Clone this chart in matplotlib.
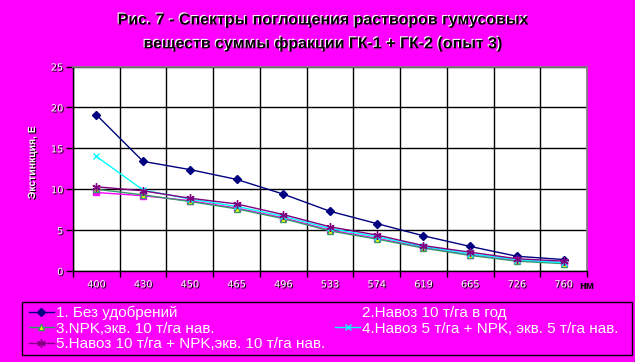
import matplotlib
matplotlib.use("Agg")
import matplotlib.pyplot as plt
import matplotlib.patheffects as pe
from matplotlib.patches import Rectangle
import numpy as np

#---------------------------------------#
# DATA
#---------------------------------------#
wavelengths = ["400", "430", "450", "465", "496", "533", "574", "619", "665", "726", "760"]
s1_no_fert = [19.1, 13.4, 12.4, 11.2, 9.4, 7.3, 5.8, 4.3, 3.0, 1.8, 1.4]
s2_manure10 = [9.6, 9.2, 8.6, 7.7, 6.5, 5.0, 4.0, 2.9, 2.0, 1.3, 1.0]
s3_npk10 = [10.0, 9.3, 8.5, 7.6, 6.4, 4.9, 3.9, 2.8, 1.9, 1.2, 0.9]
s4_manure5_npk5 = [14.0, 9.9, 8.8, 7.9, 6.7, 5.2, 4.2, 3.0, 2.1, 1.4, 1.0]
s5_manure10_npk10 = [10.3, 9.8, 8.9, 8.2, 6.9, 5.4, 4.4, 3.1, 2.3, 1.5, 1.2]
labels = ["1. Без удобрений", "2.Навоз 10 т/га в год", "3.NPK,экв. 10 т/га нав.",
          "4.Навоз 5 т/га + NPK, экв. 5 т/га нав.", "5.Навоз 10 т/га + NPK,экв. 10 т/га нав."]
yticks = [0, 5, 10, 15, 20, 25]
title = "Рис. 7 - Спектры поглощения растворов гумусовых\nвеществ суммы фракции ГК-1 + ГК-2 (опыт 3)"
#---------------------------------------#

BG = "#FF00FF"
plt.rcParams['font.family'] = ['Liberation Sans', 'DejaVu Sans']

fig = plt.figure(figsize=(6.35, 3.62), dpi=100, facecolor=BG)
ax = fig.add_axes([73/635, 1-271/362, (587-73)/635, (271-66.5)/362])
ax.set_facecolor("white")

x = np.arange(len(wavelengths))
h1, = ax.plot(x, s1_no_fert, color="#000080", lw=1.0, marker="D", ms=4.5,
              mfc="#000080", mec="#000080", zorder=3)
h2, = ax.plot(x, s2_manure10, color="#FF00FF", lw=1.0, marker="s", ms=4,
              mfc="#FF00FF", mec="#FF00FF", zorder=4)
h3, = ax.plot(x, s3_npk10, color="#339966", lw=1.0, marker="^", ms=5,
              mfc="#FFFF00", mec="#339966", zorder=5)
h4, = ax.plot(x, s4_manure5_npk5, color="#00FFFF", lw=1.0, marker="x", ms=5,
              mew=1.0, zorder=6)
h5, = ax.plot(x, s5_manure10_npk10, color="#800080", lw=1.0, marker=(6, 2, 0), ms=6,
              mew=1.0, zorder=7)

ax.set_xlim(-0.5, len(wavelengths) - 0.5)
ax.set_ylim(0, 25)

# category labels in the middle, grid on the boundaries
ax.set_xticks(x)
ax.set_xticklabels(wavelengths)
ax.set_xticks(np.arange(-0.5, len(wavelengths) + 0.5, 1), minor=True)
ax.tick_params(axis="x", which="major", length=0, pad=6)
ax.tick_params(axis="x", which="minor", length=4, width=1, color="black", direction="out")
ax.set_yticks(yticks)
ax.tick_params(axis="y", which="major", length=5, width=1, color="black", pad=2)
ax.grid(True, axis="x", which="minor", color="black", lw=1)
ax.grid(True, axis="y", which="major", color="black", lw=1)
ax.set_axisbelow(True)

shadow = [pe.withSimplePatchShadow(offset=(0.8, -0.8), shadow_rgbFace="black", alpha=1)]
for lab in ax.get_xticklabels() + ax.get_yticklabels():
    lab.set_color("white")
    lab.set_fontsize(7)
    lab.set_family("DejaVu Sans")
    lab.set_path_effects(shadow)

for side in ["left", "bottom"]:
    ax.spines[side].set_color("black")
    ax.spines[side].set_linewidth(1)
for side in ["top", "right"]:
    ax.spines[side].set_color("#808080")
    ax.spines[side].set_linewidth(1.2)

ax.set_ylabel("Экстинкция, Е", color="white", fontsize=7.5, fontweight="bold",
              path_effects=shadow)
ax.yaxis.set_label_coords(-0.07, 0.53)
fig.text(579/635, 1-286/362, "нм", color="black", fontsize=8, fontweight="bold",
         ha="left", va="center")

fig.text(324/635, 1-32/362, title, ha="center", va="center", fontsize=11.5,
         fontweight="bold", color="black", linespacing=1.6,
         path_effects=[pe.withSimplePatchShadow(offset=(-0.8, 0.8),
                                                shadow_rgbFace="white", alpha=1)])

# legend box drawn by hand, entries placed inside it
fig.patches.append(Rectangle((22/635, 1-355/362), 610/635, 53/362, transform=fig.transFigure,
                             facecolor="none", edgecolor="black", lw=1, zorder=1))
leg = fig.legend([h1, h3, h5, h2, h4], [labels[0], labels[2], labels[4], labels[1], labels[3]],
                 ncol=2, loc="upper left", bbox_to_anchor=(29/635, 1-306/362),
                 frameon=False, fontsize=11, labelcolor="white",
                 handlelength=1.63, handletextpad=0.13, borderpad=0, labelspacing=0.08,
                 columnspacing=0.66, borderaxespad=0)

fig.savefig("out.png", dpi=100, facecolor=BG)
